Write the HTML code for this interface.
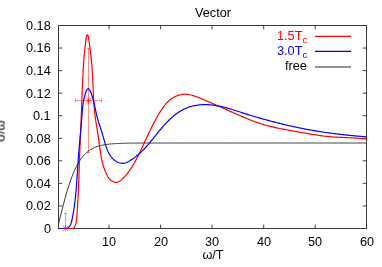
<!DOCTYPE html><html><head><meta charset="utf-8"><style>
html,body{margin:0;padding:0;background:#fff;}
body{width:382px;height:267px;position:relative;overflow:hidden;font-family:"Liberation Sans",sans-serif;font-size:12.7px;color:#000;}
.t{position:absolute;white-space:nowrap;line-height:14px;will-change:transform;}
.yl{right:331.4px;text-align:right;}
.xl{transform:translateX(-50%);}
sub{font-size:9.5px;vertical-align:baseline;position:relative;top:3px;line-height:0}
</style></head><body>
<svg width="382" height="267" viewBox="0 0 382 267" style="position:absolute;left:0;top:0">
<path d="M58.5,205.94h3.8 M366.5,205.94h-3.8 M58.5,183.39h3.8 M366.5,183.39h-3.8 M58.5,160.83h3.8 M366.5,160.83h-3.8 M58.5,138.28h3.8 M366.5,138.28h-3.8 M58.5,115.72h3.8 M366.5,115.72h-3.8 M58.5,93.17h3.8 M366.5,93.17h-3.8 M58.5,70.61h3.8 M366.5,70.61h-3.8 M58.5,48.06h3.8 M366.5,48.06h-3.8 M109.00,228.5v-3.8 M109.00,25.5v3.8 M160.60,228.5v-3.8 M160.60,25.5v3.8 M212.10,228.5v-3.8 M212.10,25.5v3.8 M263.70,228.5v-3.8 M263.70,25.5v3.8 M315.20,228.5v-3.8 M315.20,25.5v3.8" stroke="#000" stroke-width="1" stroke-opacity="0.75" fill="none"/>
<g stroke="#ff0000" stroke-width="1" stroke-opacity="0.45" fill="none">
<path d="M88.5,48.5V152.5 M87,48.5h3 M87,152.5h3 M75.5,100.6H101.5 M75.5,99v3.4 M101.5,99v3.4"/>
<path d="M65.5,213.5V228.5 M64,213.5h3"/>
</g>
<path d="M58.50,224.15 L59.12,221.60 L59.73,219.07 L60.35,216.55 L60.97,214.05 L61.59,211.58 L62.20,209.13 L62.82,206.72 L63.44,204.35 L64.06,202.01 L64.67,199.72 L65.29,197.47 L65.91,195.28 L66.52,193.13 L67.14,191.03 L67.76,188.99 L68.38,187.01 L68.99,185.08 L69.61,183.21 L70.23,181.40 L70.84,179.65 L71.46,177.95 L72.08,176.32 L72.70,174.74 L73.31,173.22 L73.93,171.76 L74.55,170.36 L75.17,169.01 L75.78,167.72 L76.40,166.48 L77.02,165.29 L77.63,164.15 L78.25,163.07 L78.87,162.03 L79.49,161.04 L80.10,160.10 L80.72,159.20 L81.34,158.34 L81.95,157.53 L82.57,156.75 L83.19,156.01 L83.81,155.31 L84.42,154.64 L85.04,154.01 L85.66,153.41 L86.28,152.84 L86.89,152.30 L87.51,151.79 L88.13,151.30 L88.74,150.84 L89.36,150.41 L89.98,149.99 L90.60,149.60 L91.21,149.23 L91.83,148.88 L92.45,148.55 L93.07,148.24 L93.68,147.94 L94.30,147.66 L94.92,147.40 L95.53,147.15 L96.15,146.91 L96.77,146.69 L97.39,146.48 L98.00,146.28 L98.62,146.10 L99.24,145.92 L99.85,145.75 L100.47,145.59 L101.09,145.45 L101.71,145.31 L102.32,145.17 L102.94,145.05 L103.56,144.93 L104.18,144.82 L104.79,144.72 L105.41,144.62 L106.03,144.52 L106.64,144.44 L107.26,144.35 L107.88,144.27 L108.50,144.20 L109.11,144.13 L109.73,144.07 L110.35,144.01 L110.96,143.95 L111.58,143.89 L112.20,143.84 L112.82,143.79 L113.43,143.75 L114.05,143.70 L114.67,143.66 L115.29,143.62 L115.90,143.59 L116.52,143.55 L117.14,143.52 L117.75,143.49 L118.37,143.46 L118.99,143.44 L119.61,143.41 L120.22,143.39 L120.84,143.36 L121.46,143.34 L122.08,143.32 L122.69,143.30 L123.31,143.29 L123.93,143.27 L124.54,143.25 L125.16,143.24 L125.78,143.23 L126.40,143.21 L127.01,143.20 L127.63,143.19 L128.25,143.18 L128.86,143.17 L129.48,143.16 L130.10,143.15 L130.72,143.14 L131.33,143.13 L131.95,143.12 L132.57,143.12 L133.19,143.11 L133.80,143.10 L134.42,143.10 L135.04,143.09 L135.65,143.09 L136.27,143.08 L136.89,143.08 L137.51,143.07 L138.12,143.07 L138.74,143.06 L139.36,143.06 L139.97,143.06 L140.59,143.05 L141.21,143.05 L141.83,143.05 L142.44,143.04 L143.06,143.04 L143.68,143.04 L144.30,143.04 L144.91,143.04 L145.53,143.03 L146.15,143.03 L146.76,143.03 L147.38,143.03 L148.00,143.03 L148.62,143.02 L149.23,143.02 L149.85,143.02 L150.47,143.02 L151.09,143.02 L151.70,143.02 L152.32,143.02 L152.94,143.02 L153.55,143.02 L154.17,143.01 L154.79,143.01 L155.41,143.01 L156.02,143.01 L156.64,143.01 L157.26,143.01 L157.87,143.01 L158.49,143.01 L159.11,143.01 L159.73,143.01 L160.34,143.01 L160.96,143.01 L161.58,143.01 L162.20,143.01 L162.81,143.01 L163.43,143.01 L164.05,143.01 L164.66,143.01 L165.28,143.00 L165.90,143.00 L166.52,143.00 L167.13,143.00 L167.75,143.00 L168.37,143.00 L168.98,143.00 L169.60,143.00 L170.22,143.00 L170.84,143.00 L171.45,143.00 L172.07,143.00 L172.69,143.00 L173.31,143.00 L173.92,143.00 L174.54,143.00 L175.16,143.00 L175.77,143.00 L176.39,143.00 L177.01,143.00 L177.63,143.00 L178.24,143.00 L178.86,143.00 L179.48,143.00 L180.10,143.00 L180.71,143.00 L181.33,143.00 L181.95,143.00 L182.56,143.00 L183.18,143.00 L183.80,143.00 L184.42,143.00 L185.03,143.00 L185.65,143.00 L186.27,143.00 L186.88,143.00 L187.50,143.00 L188.12,143.00 L188.74,143.00 L189.35,143.00 L189.97,143.00 L190.59,143.00 L191.21,143.00 L191.82,143.00 L192.44,143.00 L193.06,143.00 L193.67,143.00 L194.29,143.00 L194.91,143.00 L195.53,143.00 L196.14,143.00 L196.76,143.00 L197.38,143.00 L197.99,143.00 L198.61,143.00 L199.23,143.00 L199.85,143.00 L200.46,143.00 L201.08,143.00 L201.70,143.00 L202.32,143.00 L202.93,143.00 L203.55,143.00 L204.17,143.00 L204.78,143.00 L205.40,143.00 L206.02,143.00 L206.64,143.00 L207.25,143.00 L207.87,143.00 L208.49,143.00 L209.11,143.00 L209.72,143.00 L210.34,143.00 L210.96,143.00 L211.57,143.00 L212.19,143.00 L212.81,143.00 L213.43,143.00 L214.04,143.00 L214.66,143.00 L215.28,143.00 L215.89,143.00 L216.51,143.00 L217.13,143.00 L217.75,143.00 L218.36,143.00 L218.98,143.00 L219.60,143.00 L220.22,143.00 L220.83,143.00 L221.45,143.00 L222.07,143.00 L222.68,143.00 L223.30,143.00 L223.92,143.00 L224.54,143.00 L225.15,143.00 L225.77,143.00 L226.39,143.00 L227.01,143.00 L227.62,143.00 L228.24,143.00 L228.86,143.00 L229.47,143.00 L230.09,143.00 L230.71,143.00 L231.33,143.00 L231.94,143.00 L232.56,143.00 L233.18,143.00 L233.79,143.00 L234.41,143.00 L235.03,143.00 L235.65,143.00 L236.26,143.00 L236.88,143.00 L237.50,143.00 L238.12,143.00 L238.73,143.00 L239.35,143.00 L239.97,143.00 L240.58,143.00 L241.20,143.00 L241.82,143.00 L242.44,143.00 L243.05,143.00 L243.67,143.00 L244.29,143.00 L244.90,143.00 L245.52,143.00 L246.14,143.00 L246.76,143.00 L247.37,143.00 L247.99,143.00 L248.61,143.00 L249.23,143.00 L249.84,143.00 L250.46,143.00 L251.08,143.00 L251.69,143.00 L252.31,143.00 L252.93,143.00 L253.55,143.00 L254.16,143.00 L254.78,143.00 L255.40,143.00 L256.02,143.00 L256.63,143.00 L257.25,143.00 L257.87,143.00 L258.48,143.00 L259.10,143.00 L259.72,143.00 L260.34,143.00 L260.95,143.00 L261.57,143.00 L262.19,143.00 L262.80,143.00 L263.42,143.00 L264.04,143.00 L264.66,143.00 L265.27,143.00 L265.89,143.00 L266.51,143.00 L267.13,143.00 L267.74,143.00 L268.36,143.00 L268.98,143.00 L269.59,143.00 L270.21,143.00 L270.83,143.00 L271.45,143.00 L272.06,143.00 L272.68,143.00 L273.30,143.00 L273.91,143.00 L274.53,143.00 L275.15,143.00 L275.77,143.00 L276.38,143.00 L277.00,143.00 L277.62,143.00 L278.24,143.00 L278.85,143.00 L279.47,143.00 L280.09,143.00 L280.70,143.00 L281.32,143.00 L281.94,143.00 L282.56,143.00 L283.17,143.00 L283.79,143.00 L284.41,143.00 L285.03,143.00 L285.64,143.00 L286.26,143.00 L286.88,143.00 L287.49,143.00 L288.11,143.00 L288.73,143.00 L289.35,143.00 L289.96,143.00 L290.58,143.00 L291.20,143.00 L291.81,143.00 L292.43,143.00 L293.05,143.00 L293.67,143.00 L294.28,143.00 L294.90,143.00 L295.52,143.00 L296.14,143.00 L296.75,143.00 L297.37,143.00 L297.99,143.00 L298.60,143.00 L299.22,143.00 L299.84,143.00 L300.46,143.00 L301.07,143.00 L301.69,143.00 L302.31,143.00 L302.92,143.00 L303.54,143.00 L304.16,143.00 L304.78,143.00 L305.39,143.00 L306.01,143.00 L306.63,143.00 L307.25,143.00 L307.86,143.00 L308.48,143.00 L309.10,143.00 L309.71,143.00 L310.33,143.00 L310.95,143.00 L311.57,143.00 L312.18,143.00 L312.80,143.00 L313.42,143.00 L314.04,143.00 L314.65,143.00 L315.27,143.00 L315.89,143.00 L316.50,143.00 L317.12,143.00 L317.74,143.00 L318.36,143.00 L318.97,143.00 L319.59,143.00 L320.21,143.00 L320.82,143.00 L321.44,143.00 L322.06,143.00 L322.68,143.00 L323.29,143.00 L323.91,143.00 L324.53,143.00 L325.15,143.00 L325.76,143.00 L326.38,143.00 L327.00,143.00 L327.61,143.00 L328.23,143.00 L328.85,143.00 L329.47,143.00 L330.08,143.00 L330.70,143.00 L331.32,143.00 L331.93,143.00 L332.55,143.00 L333.17,143.00 L333.79,143.00 L334.40,143.00 L335.02,143.00 L335.64,143.00 L336.26,143.00 L336.87,143.00 L337.49,143.00 L338.11,143.00 L338.72,143.00 L339.34,143.00 L339.96,143.00 L340.58,143.00 L341.19,143.00 L341.81,143.00 L342.43,143.00 L343.05,143.00 L343.66,143.00 L344.28,143.00 L344.90,143.00 L345.51,143.00 L346.13,143.00 L346.75,143.00 L347.37,143.00 L347.98,143.00 L348.60,143.00 L349.22,143.00 L349.83,143.00 L350.45,143.00 L351.07,143.00 L351.69,143.00 L352.30,143.00 L352.92,143.00 L353.54,143.00 L354.16,143.00 L354.77,143.00 L355.39,143.00 L356.01,143.00 L356.62,143.00 L357.24,143.00 L357.86,143.00 L358.48,143.00 L359.09,143.00 L359.71,143.00 L360.33,143.00 L360.94,143.00 L361.56,143.00 L362.18,143.00 L362.80,143.00 L363.41,143.00 L364.03,143.00 L364.65,143.00 L365.27,143.00 L365.88,143.00 L366.50,143.00" fill="none" stroke="#000" stroke-width="0.9" stroke-opacity="0.9"/>
<rect x="58.5" y="25.5" width="308.0" height="203.0" fill="none" stroke="#3a3a3a" stroke-width="1"/>
<path d="M58.5,228.5 L73.07,228.5 L73.07,228.47 L73.86,227.65 L74.51,226.77 L75.03,225.84 L75.46,224.88 L75.79,223.87 L76.04,222.83 L76.24,221.77 L76.39,220.69 L76.50,219.60 L76.60,218.50 L76.70,217.40 L76.79,216.30 L76.88,215.20 L76.97,214.10 L77.05,213.00 L77.13,211.90 L77.22,210.81 L77.29,209.71 L77.37,208.61 L77.44,207.51 L77.52,206.41 L77.59,205.32 L77.65,204.22 L77.72,203.12 L77.79,202.03 L77.85,200.93 L77.91,199.83 L77.97,198.74 L78.03,197.64 L78.08,196.55 L78.14,195.45 L78.19,194.36 L78.25,193.26 L78.30,192.17 L78.35,191.07 L78.40,189.98 L78.44,188.88 L78.49,187.79 L78.54,186.70 L78.58,185.61 L78.62,184.51 L78.67,183.42 L78.71,182.33 L78.75,181.24 L78.79,180.15 L78.83,179.06 L78.87,177.97 L78.91,176.88 L78.95,175.79 L78.99,174.70 L79.03,173.61 L79.06,172.52 L79.10,171.43 L79.14,170.35 L79.18,169.26 L79.21,168.17 L79.25,167.09 L79.29,166.00 L79.32,164.91 L79.36,163.83 L79.40,162.75 L79.44,161.66 L79.48,160.58 L79.51,159.50 L79.55,158.41 L79.59,157.33 L79.63,156.25 L79.67,155.17 L79.72,154.09 L79.76,153.01 L79.80,151.92 L79.84,150.84 L79.88,149.76 L79.93,148.68 L79.97,147.60 L80.01,146.52 L80.05,145.43 L80.10,144.35 L80.14,143.27 L80.19,142.18 L80.23,141.10 L80.27,140.01 L80.32,138.93 L80.36,137.84 L80.41,136.75 L80.45,135.66 L80.50,134.57 L80.54,133.48 L80.59,132.39 L80.63,131.30 L80.68,130.20 L80.73,129.10 L80.77,128.01 L80.82,126.91 L80.86,125.81 L80.91,124.70 L80.95,123.60 L81.00,122.49 L81.04,121.38 L81.09,120.27 L81.13,119.16 L81.18,118.05 L81.22,116.93 L81.27,115.81 L81.31,114.69 L81.36,113.57 L81.40,112.44 L81.45,111.31 L81.49,110.19 L81.53,109.06 L81.58,107.93 L81.62,106.79 L81.67,105.66 L81.71,104.53 L81.75,103.40 L81.80,102.27 L81.84,101.14 L81.89,100.01 L81.93,98.88 L81.97,97.75 L82.02,96.63 L82.06,95.51 L82.11,94.39 L82.15,93.27 L82.20,92.16 L82.24,91.05 L82.29,89.94 L82.33,88.84 L82.38,87.74 L82.42,86.64 L82.47,85.55 L82.52,84.47 L82.56,83.39 L82.61,82.31 L82.66,81.25 L82.70,80.18 L82.75,79.13 L82.80,78.08 L82.85,77.04 L82.90,76.00 L82.95,74.97 L83.00,73.95 L83.05,72.94 L83.10,71.94 L83.15,70.94 L83.20,69.96 L83.26,68.98 L83.31,68.01 L83.36,67.04 L83.42,66.07 L83.48,65.09 L83.54,64.11 L83.61,63.12 L83.68,62.12 L83.75,61.10 L83.83,60.06 L83.91,59.00 L84.00,57.91 L84.10,56.79 L84.20,55.64 L84.31,54.46 L84.42,53.23 L84.55,51.97 L84.68,50.66 L84.82,49.30 L84.97,47.89 L85.13,46.44 L85.29,44.97 L85.47,43.51 L85.65,42.08 L85.84,40.71 L86.03,39.42 L86.23,38.23 L86.44,37.18 L86.64,36.29 L86.85,35.57 L87.06,35.07 L87.28,34.79 L87.49,34.77 L87.70,35.01 L87.92,35.48 L88.13,36.16 L88.34,37.03 L88.55,38.05 L88.75,39.22 L88.96,40.49 L89.15,41.85 L89.35,43.27 L89.54,44.72 L89.72,46.19 L89.90,47.65 L90.07,49.06 L90.23,50.43 L90.38,51.74 L90.53,53.01 L90.68,54.24 L90.81,55.43 L90.95,56.58 L91.07,57.70 L91.19,58.80 L91.30,59.86 L91.41,60.90 L91.52,61.92 L91.61,62.93 L91.71,63.92 L91.80,64.90 L91.88,65.87 L91.96,66.84 L92.04,67.81 L92.11,68.78 L92.18,69.75 L92.25,70.74 L92.31,71.73 L92.37,72.73 L92.43,73.74 L92.49,74.76 L92.54,75.79 L92.59,76.83 L92.64,77.87 L92.69,78.92 L92.74,79.98 L92.78,81.04 L92.83,82.11 L92.87,83.19 L92.92,84.27 L92.96,85.36 L93.01,86.45 L93.05,87.54 L93.10,88.64 L93.15,89.75 L93.19,90.85 L93.24,91.97 L93.30,93.08 L93.35,94.20 L93.40,95.32 L93.46,96.44 L93.52,97.56 L93.59,98.69 L93.65,99.81 L93.72,100.94 L93.80,102.06 L93.87,103.19 L93.96,104.32 L94.04,105.44 L94.13,106.57 L94.23,107.69 L94.33,108.82 L94.43,109.94 L94.55,111.06 L94.66,112.17 L94.79,113.29 L94.91,114.40 L95.05,115.51 L95.19,116.61 L95.34,117.71 L95.49,118.81 L95.65,119.91 L95.81,121.00 L95.98,122.09 L96.15,123.18 L96.32,124.26 L96.49,125.35 L96.67,126.43 L96.84,127.51 L97.02,128.59 L97.19,129.66 L97.37,130.74 L97.54,131.82 L97.71,132.89 L97.88,133.97 L98.05,135.04 L98.21,136.11 L98.37,137.19 L98.52,138.26 L98.67,139.34 L98.81,140.41 L98.96,141.49 L99.10,142.56 L99.23,143.64 L99.37,144.71 L99.51,145.79 L99.65,146.86 L99.80,147.94 L99.94,149.01 L100.09,150.08 L100.25,151.16 L100.41,152.23 L100.58,153.30 L100.75,154.37 L100.94,155.44 L101.13,156.51 L101.33,157.58 L101.55,158.65 L101.78,159.71 L102.02,160.78 L102.27,161.84 L102.54,162.90 L102.82,163.96 L103.12,165.02 L103.43,166.08 L103.77,167.13 L104.12,168.18 L104.49,169.23 L104.89,170.28 L105.30,171.33 L105.74,172.38 L106.20,173.42 L106.68,174.46 L107.20,175.49 L107.75,176.49 L108.35,177.46 L109.00,178.37 L109.71,179.23 L110.49,180.02 L111.34,180.72 L112.24,181.33 L113.17,181.81 L114.14,182.17 L115.12,182.38 L116.10,182.43 L117.06,182.31 L118.00,182.02 L118.93,181.60 L119.84,181.06 L120.73,180.41 L121.59,179.69 L122.44,178.91 L123.26,178.09 L124.07,177.25 L124.85,176.40 L125.61,175.54 L126.34,174.67 L127.06,173.80 L127.76,172.92 L128.44,172.03 L129.10,171.14 L129.75,170.23 L130.38,169.33 L131.00,168.41 L131.60,167.49 L132.18,166.56 L132.76,165.63 L133.32,164.69 L133.87,163.75 L134.41,162.81 L134.94,161.86 L135.46,160.90 L135.97,159.94 L136.48,158.98 L136.98,158.01 L137.47,157.05 L137.96,156.07 L138.44,155.10 L138.92,154.12 L139.40,153.15 L139.88,152.17 L140.35,151.19 L140.82,150.20 L141.29,149.22 L141.76,148.23 L142.22,147.25 L142.68,146.26 L143.15,145.27 L143.61,144.28 L144.07,143.29 L144.53,142.30 L145.00,141.31 L145.46,140.32 L145.92,139.33 L146.38,138.34 L146.85,137.35 L147.31,136.36 L147.78,135.37 L148.24,134.38 L148.71,133.39 L149.18,132.40 L149.66,131.42 L150.13,130.43 L150.61,129.45 L151.09,128.47 L151.58,127.49 L152.06,126.51 L152.56,125.53 L153.05,124.56 L153.55,123.59 L154.05,122.62 L154.56,121.65 L155.07,120.68 L155.59,119.72 L156.11,118.76 L156.64,117.81 L157.18,116.85 L157.72,115.90 L158.26,114.96 L158.82,114.02 L159.38,113.08 L159.95,112.15 L160.53,111.23 L161.12,110.31 L161.73,109.40 L162.34,108.50 L162.97,107.61 L163.61,106.72 L164.27,105.85 L164.94,105.00 L165.63,104.15 L166.35,103.33 L167.09,102.53 L167.86,101.75 L168.65,101.00 L169.48,100.28 L170.34,99.59 L171.23,98.92 L172.15,98.30 L173.09,97.71 L174.06,97.16 L175.05,96.65 L176.06,96.18 L177.09,95.76 L178.13,95.38 L179.18,95.05 L180.24,94.78 L181.31,94.55 L182.38,94.38 L183.45,94.27 L184.53,94.21 L185.60,94.21 L186.66,94.27 L187.73,94.38 L188.79,94.54 L189.85,94.74 L190.91,94.98 L191.96,95.26 L193.01,95.56 L194.06,95.90 L195.10,96.26 L196.14,96.64 L197.18,97.04 L198.21,97.44 L199.25,97.86 L200.28,98.28 L201.30,98.71 L202.33,99.13 L203.35,99.56 L204.37,99.99 L205.38,100.41 L206.40,100.85 L207.41,101.28 L208.42,101.71 L209.42,102.15 L210.43,102.58 L211.43,103.02 L212.44,103.46 L213.44,103.90 L214.44,104.34 L215.43,104.78 L216.43,105.22 L217.42,105.66 L218.42,106.10 L219.41,106.54 L220.41,106.98 L221.40,107.43 L222.39,107.87 L223.38,108.31 L224.37,108.76 L225.36,109.20 L226.35,109.64 L227.35,110.09 L228.34,110.53 L229.33,110.97 L230.32,111.41 L231.31,111.86 L232.31,112.30 L233.30,112.74 L234.30,113.18 L235.29,113.62 L236.29,114.05 L237.29,114.49 L238.29,114.93 L239.29,115.36 L240.29,115.80 L241.29,116.23 L242.30,116.66 L243.31,117.09 L244.32,117.52 L245.33,117.94 L246.34,118.36 L247.36,118.78 L248.38,119.20 L249.40,119.61 L250.42,120.02 L251.44,120.42 L252.47,120.81 L253.50,121.20 L254.53,121.58 L255.56,121.96 L256.59,122.33 L257.63,122.69 L258.67,123.04 L259.71,123.38 L260.75,123.72 L261.79,124.04 L262.84,124.36 L263.89,124.66 L264.94,124.96 L265.99,125.25 L267.04,125.54 L268.10,125.82 L269.16,126.09 L270.21,126.35 L271.27,126.61 L272.33,126.86 L273.40,127.11 L274.46,127.35 L275.53,127.59 L276.59,127.82 L277.66,128.05 L278.73,128.28 L279.80,128.50 L280.87,128.72 L281.94,128.93 L283.01,129.14 L284.08,129.35 L285.15,129.56 L286.23,129.76 L287.30,129.97 L288.38,130.16 L289.45,130.36 L290.53,130.56 L291.61,130.75 L292.68,130.94 L293.76,131.13 L294.84,131.32 L295.92,131.51 L297.00,131.70 L298.07,131.88 L299.15,132.07 L300.23,132.25 L301.31,132.44 L302.39,132.62 L303.47,132.81 L304.55,132.99 L305.63,133.18 L306.70,133.36 L307.78,133.55 L308.86,133.73 L309.94,133.92 L311.01,134.11 L312.09,134.29 L313.17,134.48 L314.25,134.66 L315.32,134.84 L316.40,135.02 L317.48,135.19 L318.56,135.36 L319.64,135.52 L320.72,135.67 L321.80,135.82 L322.88,135.97 L323.97,136.10 L325.05,136.23 L326.14,136.35 L327.22,136.46 L328.31,136.56 L329.40,136.66 L330.49,136.75 L331.58,136.83 L332.67,136.91 L333.76,136.99 L334.85,137.06 L335.94,137.13 L337.04,137.19 L338.13,137.25 L339.22,137.31 L340.32,137.36 L341.41,137.41 L342.50,137.46 L343.60,137.51 L344.69,137.56 L345.79,137.61 L346.88,137.66 L347.98,137.71 L349.07,137.76 L350.16,137.82 L351.26,137.87 L352.35,137.93 L353.44,137.99 L354.53,138.05 L355.63,138.12 L356.72,138.19 L357.81,138.27 L358.90,138.35 L359.99,138.44 L361.07,138.53 L362.16,138.63 L363.25,138.74 L364.33,138.85 L365.42,138.97 L366.50,139.10" fill="none" stroke="#ff0000" stroke-width="1.2" stroke-linejoin="round"/>
<path d="M58.5,228.5 L67.01,228.5 L67.01,228.43 L67.80,227.98 L68.50,227.47 L69.10,226.90 L69.63,226.28 L70.08,225.62 L70.47,224.91 L70.80,224.17 L71.09,223.40 L71.33,222.61 L71.55,221.80 L71.74,220.98 L71.92,220.16 L72.09,219.33 L72.26,218.50 L72.43,217.68 L72.59,216.85 L72.75,216.02 L72.90,215.20 L73.05,214.37 L73.20,213.55 L73.34,212.72 L73.48,211.90 L73.61,211.08 L73.74,210.25 L73.87,209.43 L74.00,208.60 L74.12,207.78 L74.24,206.96 L74.35,206.13 L74.47,205.31 L74.58,204.49 L74.68,203.66 L74.79,202.84 L74.89,202.02 L74.99,201.20 L75.08,200.37 L75.18,199.55 L75.27,198.73 L75.36,197.90 L75.44,197.08 L75.53,196.26 L75.61,195.43 L75.69,194.61 L75.77,193.79 L75.85,192.96 L75.92,192.14 L75.99,191.32 L76.07,190.49 L76.14,189.67 L76.20,188.84 L76.27,188.02 L76.34,187.19 L76.40,186.37 L76.46,185.54 L76.53,184.71 L76.59,183.89 L76.65,183.06 L76.70,182.23 L76.76,181.40 L76.82,180.57 L76.88,179.75 L76.93,178.92 L76.99,178.09 L77.04,177.26 L77.10,176.42 L77.15,175.59 L77.21,174.76 L77.26,173.93 L77.31,173.09 L77.37,172.26 L77.42,171.43 L77.47,170.59 L77.53,169.75 L77.58,168.92 L77.64,168.08 L77.69,167.24 L77.75,166.40 L77.80,165.56 L77.86,164.72 L77.92,163.88 L77.98,163.04 L78.04,162.20 L78.10,161.35 L78.16,160.51 L78.22,159.66 L78.28,158.82 L78.35,157.97 L78.41,157.12 L78.48,156.27 L78.54,155.42 L78.61,154.57 L78.68,153.72 L78.75,152.87 L78.82,152.02 L78.89,151.17 L78.96,150.32 L79.04,149.47 L79.11,148.62 L79.18,147.77 L79.26,146.92 L79.33,146.07 L79.41,145.22 L79.48,144.37 L79.56,143.52 L79.63,142.67 L79.71,141.83 L79.78,140.98 L79.86,140.14 L79.94,139.29 L80.01,138.45 L80.09,137.61 L80.16,136.77 L80.24,135.93 L80.32,135.10 L80.39,134.26 L80.47,133.43 L80.54,132.59 L80.62,131.76 L80.69,130.94 L80.76,130.11 L80.84,129.29 L80.91,128.46 L80.98,127.64 L81.05,126.83 L81.12,126.01 L81.19,125.20 L81.26,124.39 L81.33,123.58 L81.40,122.78 L81.46,121.98 L81.53,121.18 L81.59,120.38 L81.66,119.59 L81.72,118.80 L81.78,118.02 L81.84,117.23 L81.90,116.45 L81.96,115.68 L82.01,114.91 L82.07,114.14 L82.12,113.37 L82.18,112.60 L82.23,111.84 L82.29,111.07 L82.36,110.30 L82.42,109.52 L82.50,108.74 L82.58,107.95 L82.66,107.15 L82.75,106.35 L82.86,105.53 L82.97,104.70 L83.09,103.85 L83.23,102.99 L83.38,102.11 L83.54,101.22 L83.72,100.31 L83.91,99.37 L84.11,98.42 L84.34,97.44 L84.58,96.43 L84.85,95.41 L85.12,94.39 L85.42,93.40 L85.73,92.45 L86.05,91.56 L86.39,90.75 L86.74,90.05 L87.09,89.47 L87.46,89.03 L87.83,88.76 L88.21,88.68 L88.59,88.79 L88.98,89.09 L89.36,89.55 L89.75,90.15 L90.13,90.86 L90.51,91.68 L90.87,92.56 L91.23,93.50 L91.57,94.47 L91.90,95.45 L92.21,96.42 L92.50,97.36 L92.78,98.29 L93.04,99.21 L93.28,100.10 L93.52,100.98 L93.74,101.85 L93.95,102.70 L94.15,103.54 L94.34,104.36 L94.53,105.18 L94.71,105.98 L94.88,106.78 L95.05,107.57 L95.21,108.35 L95.37,109.13 L95.54,109.90 L95.70,110.66 L95.86,111.42 L96.02,112.18 L96.19,112.94 L96.36,113.70 L96.54,114.46 L96.73,115.22 L96.92,115.98 L97.11,116.74 L97.32,117.51 L97.53,118.28 L97.74,119.05 L97.97,119.82 L98.19,120.59 L98.42,121.37 L98.66,122.15 L98.90,122.93 L99.14,123.71 L99.38,124.50 L99.63,125.28 L99.88,126.07 L100.13,126.87 L100.39,127.66 L100.64,128.46 L100.89,129.26 L101.15,130.06 L101.41,130.86 L101.66,131.67 L101.91,132.48 L102.17,133.29 L102.42,134.11 L102.67,134.92 L102.91,135.74 L103.16,136.56 L103.40,137.39 L103.63,138.21 L103.87,139.04 L104.10,139.87 L104.33,140.70 L104.57,141.53 L104.80,142.36 L105.04,143.19 L105.28,144.01 L105.53,144.83 L105.78,145.65 L106.04,146.46 L106.32,147.26 L106.60,148.06 L106.89,148.85 L107.19,149.63 L107.51,150.40 L107.84,151.16 L108.19,151.91 L108.56,152.65 L108.94,153.37 L109.34,154.09 L109.77,154.78 L110.21,155.47 L110.68,156.13 L111.17,156.78 L111.69,157.41 L112.23,158.02 L112.80,158.62 L113.40,159.19 L114.03,159.75 L114.69,160.28 L115.38,160.78 L116.10,161.25 L116.83,161.69 L117.59,162.09 L118.36,162.44 L119.14,162.74 L119.93,162.98 L120.73,163.17 L121.54,163.28 L122.34,163.33 L123.14,163.31 L123.94,163.22 L124.74,163.06 L125.53,162.84 L126.31,162.56 L127.09,162.24 L127.87,161.88 L128.63,161.48 L129.39,161.05 L130.14,160.60 L130.89,160.12 L131.62,159.64 L132.34,159.15 L133.06,158.65 L133.76,158.15 L134.45,157.64 L135.14,157.13 L135.81,156.61 L136.48,156.08 L137.13,155.55 L137.78,155.02 L138.42,154.48 L139.05,153.93 L139.68,153.38 L140.29,152.82 L140.90,152.25 L141.50,151.68 L142.09,151.11 L142.68,150.52 L143.26,149.94 L143.83,149.35 L144.40,148.75 L144.97,148.15 L145.52,147.55 L146.08,146.94 L146.63,146.33 L147.17,145.71 L147.71,145.10 L148.25,144.47 L148.78,143.85 L149.31,143.22 L149.84,142.59 L150.37,141.95 L150.89,141.32 L151.41,140.68 L151.93,140.04 L152.45,139.40 L152.97,138.76 L153.49,138.11 L154.01,137.46 L154.52,136.82 L155.04,136.17 L155.56,135.52 L156.08,134.87 L156.60,134.22 L157.12,133.57 L157.65,132.92 L158.17,132.27 L158.70,131.62 L159.23,130.97 L159.77,130.32 L160.31,129.67 L160.85,129.03 L161.39,128.38 L161.94,127.74 L162.50,127.10 L163.05,126.46 L163.61,125.82 L164.18,125.19 L164.75,124.56 L165.32,123.94 L165.90,123.32 L166.48,122.70 L167.07,122.09 L167.66,121.49 L168.25,120.89 L168.85,120.29 L169.46,119.71 L170.07,119.12 L170.69,118.55 L171.31,117.98 L171.93,117.42 L172.56,116.87 L173.20,116.33 L173.84,115.79 L174.49,115.27 L175.15,114.75 L175.81,114.25 L176.47,113.75 L177.15,113.27 L177.82,112.79 L178.51,112.33 L179.20,111.87 L179.90,111.43 L180.60,111.00 L181.31,110.59 L182.03,110.18 L182.75,109.79 L183.48,109.41 L184.22,109.05 L184.97,108.70 L185.72,108.36 L186.48,108.04 L187.24,107.74 L188.02,107.45 L188.80,107.17 L189.59,106.91 L190.38,106.67 L191.18,106.44 L191.99,106.22 L192.80,106.02 L193.61,105.83 L194.43,105.66 L195.25,105.50 L196.08,105.36 L196.91,105.22 L197.74,105.10 L198.57,105.00 L199.41,104.91 L200.25,104.83 L201.09,104.76 L201.93,104.71 L202.76,104.67 L203.60,104.64 L204.44,104.62 L205.28,104.62 L206.12,104.63 L206.95,104.64 L207.79,104.68 L208.62,104.72 L209.45,104.77 L210.28,104.83 L211.10,104.91 L211.93,104.99 L212.75,105.08 L213.57,105.19 L214.39,105.30 L215.21,105.42 L216.03,105.55 L216.84,105.69 L217.66,105.84 L218.47,105.99 L219.28,106.15 L220.09,106.32 L220.90,106.50 L221.71,106.68 L222.52,106.87 L223.33,107.06 L224.13,107.26 L224.94,107.47 L225.74,107.68 L226.54,107.90 L227.34,108.12 L228.15,108.34 L228.95,108.57 L229.75,108.81 L230.55,109.04 L231.35,109.28 L232.14,109.52 L232.94,109.77 L233.74,110.02 L234.54,110.27 L235.34,110.52 L236.13,110.77 L236.93,111.02 L237.73,111.28 L238.52,111.53 L239.32,111.79 L240.12,112.05 L240.91,112.30 L241.71,112.56 L242.51,112.81 L243.30,113.06 L244.10,113.32 L244.90,113.57 L245.70,113.82 L246.50,114.07 L247.29,114.31 L248.09,114.56 L248.89,114.81 L249.69,115.05 L250.49,115.30 L251.29,115.54 L252.09,115.78 L252.89,116.02 L253.69,116.26 L254.49,116.50 L255.29,116.74 L256.09,116.98 L256.89,117.21 L257.69,117.45 L258.49,117.68 L259.29,117.91 L260.09,118.14 L260.90,118.37 L261.70,118.60 L262.50,118.83 L263.30,119.06 L264.10,119.28 L264.91,119.51 L265.71,119.73 L266.51,119.95 L267.32,120.17 L268.12,120.39 L268.93,120.61 L269.73,120.83 L270.54,121.04 L271.34,121.26 L272.15,121.47 L272.95,121.69 L273.76,121.90 L274.56,122.11 L275.37,122.32 L276.18,122.52 L276.98,122.73 L277.79,122.93 L278.60,123.14 L279.40,123.34 L280.21,123.54 L281.02,123.74 L281.83,123.94 L282.64,124.13 L283.45,124.33 L284.26,124.52 L285.06,124.72 L285.87,124.91 L286.68,125.10 L287.49,125.29 L288.31,125.47 L289.12,125.66 L289.93,125.84 L290.74,126.03 L291.55,126.21 L292.36,126.39 L293.18,126.57 L293.99,126.75 L294.80,126.92 L295.61,127.10 L296.43,127.27 L297.24,127.44 L298.06,127.61 L298.87,127.78 L299.69,127.95 L300.50,128.11 L301.32,128.28 L302.13,128.44 L302.95,128.60 L303.77,128.76 L304.58,128.92 L305.40,129.07 L306.22,129.23 L307.03,129.38 L307.85,129.53 L308.67,129.68 L309.49,129.83 L310.31,129.98 L311.13,130.12 L311.95,130.27 L312.77,130.41 L313.59,130.55 L314.41,130.69 L315.23,130.83 L316.05,130.96 L316.87,131.10 L317.70,131.23 L318.52,131.36 L319.34,131.50 L320.16,131.62 L320.99,131.75 L321.81,131.88 L322.63,132.00 L323.46,132.13 L324.28,132.25 L325.10,132.37 L325.93,132.49 L326.75,132.61 L327.58,132.72 L328.40,132.84 L329.23,132.95 L330.05,133.06 L330.88,133.17 L331.71,133.28 L332.53,133.39 L333.36,133.50 L334.18,133.61 L335.01,133.71 L335.84,133.81 L336.66,133.92 L337.49,134.02 L338.32,134.12 L339.15,134.22 L339.97,134.31 L340.80,134.41 L341.63,134.51 L342.46,134.60 L343.29,134.69 L344.11,134.78 L344.94,134.87 L345.77,134.96 L346.60,135.05 L347.43,135.14 L348.26,135.22 L349.09,135.31 L349.91,135.39 L350.74,135.48 L351.57,135.56 L352.40,135.64 L353.23,135.72 L354.06,135.80 L354.89,135.88 L355.72,135.95 L356.55,136.03 L357.38,136.10 L358.21,136.18 L359.04,136.25 L359.87,136.32 L360.70,136.39 L361.53,136.46 L362.36,136.53 L363.19,136.60 L364.01,136.67 L364.84,136.73 L365.67,136.80 L366.50,136.86" fill="none" stroke="#0000ff" stroke-width="1.2" stroke-linejoin="round"/>
<g stroke="#ff0000" stroke-width="0.9" stroke-opacity="0.55" fill="none">
<path d="M85.5,100.6h6 M88.5,97.6v6 M85.6,97.7l5.8,5.8 M91.4,97.7l-5.8,5.8"/>
<path d="M62.5,228.4h6 M65.5,225.4v6 M62.6,225.5l5.8,5.8 M68.4,225.5l-5.8,5.8"/>
</g>
<path d="M315,36.3H351" stroke="#ff0000" stroke-width="1.2"/>
<path d="M315,51.4H351" stroke="#0000ff" stroke-width="1.2"/>
<path d="M315,67H351" stroke="#000" stroke-width="1" stroke-opacity="0.85"/>
</svg>
<div class="t yl" style="top:221.8px">0</div>
<div class="t yl" style="top:199.2px">0.02</div>
<div class="t yl" style="top:176.7px">0.04</div>
<div class="t yl" style="top:154.1px">0.06</div>
<div class="t yl" style="top:131.6px">0.08</div>
<div class="t yl" style="top:109.0px">0.1</div>
<div class="t yl" style="top:86.5px">0.12</div>
<div class="t yl" style="top:63.9px">0.14</div>
<div class="t yl" style="top:41.4px">0.16</div>
<div class="t yl" style="top:18.8px">0.18</div>
<div class="t xl" style="left:109.0px;top:235px">10</div>
<div class="t xl" style="left:160.6px;top:235px">20</div>
<div class="t xl" style="left:212.1px;top:235px">30</div>
<div class="t xl" style="left:263.7px;top:235px">40</div>
<div class="t xl" style="left:315.2px;top:235px">50</div>
<div class="t xl" style="left:366.5px;top:235px">60</div>
<div class="t xl" style="left:212.8px;top:6.2px">Vector</div>
<div class="t xl" style="left:212.5px;top:247.7px">ω/T</div>
<div class="t" style="left:-10px;top:123.5px;transform:rotate(-90deg);transform-origin:center">σ/ω</div>
<div class="t" style="right:75px;top:29px;color:#ff0000;">1.5T<sub>c</sub></div>
<div class="t" style="right:75px;top:44px;color:#0000ff;">3.0T<sub>c</sub></div>
<div class="t" style="right:75px;top:59px;">free</div>
</body></html>
